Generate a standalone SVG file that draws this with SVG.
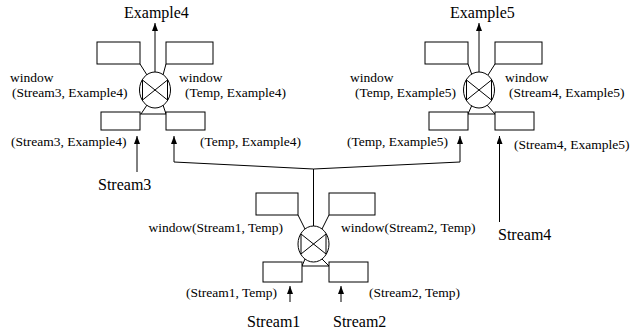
<svg xmlns="http://www.w3.org/2000/svg" width="630" height="334" viewBox="0 0 630 334" font-family="'Liberation Serif', 'DejaVu Serif', serif">
<style>
text{font-family:'Liberation Serif','DejaVu Serif',serif;fill:#000}
.s{font-size:13.5px}
.b{font-size:16px}
.box{fill:#fff;stroke:#000;stroke-width:1}
.ln{fill:none;stroke:#000;stroke-width:1}
.ar{fill:none;stroke:#000;stroke-width:1;marker-end:url(#ah)}
</style>
<defs>
<marker id="ah" viewBox="0 0 8 6" refX="8" refY="3" markerWidth="8" markerHeight="6" markerUnits="userSpaceOnUse" orient="auto"><path d="M0,0 L8,3 L0,6 z" fill="#000"/></marker>
<g id="opsym">
<ellipse cx="0" cy="0" rx="15.5" ry="18" fill="#fff" stroke="#000" stroke-width="1"/>
<path d="M-12.5,-10 L12.5,10 M12.5,-10 L-12.5,10 M-12.5,-10 V10 M12.5,-10 V10" fill="none" stroke="#000" stroke-width="1"/>
</g>
</defs>

<g id="connectors">
<path class="ln" d="M140,64 L147,75 M166,64 L163,75 M147,105 L141,114 M163,105 L166,114 M140,114 H166"/>
<path class="ar" d="M155,72 V23"/>
<path class="ln" d="M468,64 L472,75 M495,64 L488,75 M472,105 L468,114 M487,105 L495,114 M468,114 H495"/>
<path class="ar" d="M479,72 V23"/>
<path class="ln" d="M298,215 L305,229 M329,215 L322,229 M305,259 L302,266 M322,259 L329,266 M302,266 H329"/>
<path class="ln" d="M313.5,226 V169"/>
<path class="ar" d="M313.5,169 L174,162 V136"/>
<path class="ar" d="M313.5,169 L460,162 V136"/>
<path class="ar" d="M137,172 V136"/>
<path class="ar" d="M499.5,222 V136"/>
<path class="ar" d="M290,302 V286"/>
<path class="ar" d="M341,302 V286"/>
</g>

<g id="op-example4">
<rect class="box" x="97" y="42" width="43" height="22"/>
<rect class="box" x="166" y="42" width="47" height="22"/>
<use href="#opsym" x="155" y="90"/>
<rect class="box" x="101" y="112" width="39" height="18"/>
<rect class="box" x="166" y="112" width="39" height="18"/>
<text class="b" x="124" y="18">Example4</text>
<text class="s" x="10" y="82">window</text>
<text class="s" x="12" y="97">(Stream3, Example4)</text>
<text class="s" x="179" y="82">window</text>
<text class="s" x="185" y="97">(Temp, Example4)</text>
<text class="s" x="11" y="146">(Stream3, Example4)</text>
<text class="s" x="200" y="146">(Temp, Example4)</text>
</g>

<g id="op-example5">
<rect class="box" x="425" y="42" width="43" height="22"/>
<rect class="box" x="495" y="42" width="47" height="22"/>
<use href="#opsym" x="479" y="90"/>
<rect class="box" x="429" y="112" width="39" height="18"/>
<rect class="box" x="495" y="112" width="39" height="18"/>
<text class="b" x="450" y="18">Example5</text>
<text class="s" x="350" y="82">window</text>
<text class="s" x="355" y="97">(Temp, Example5)</text>
<text class="s" x="505" y="82">window</text>
<text class="s" x="509" y="97">(Stream4, Example5)</text>
<text class="s" x="347" y="146">(Temp, Example5)</text>
<text class="s" x="514" y="149">(Stream4, Example5)</text>
</g>

<g id="op-temp">
<rect class="box" x="256" y="193" width="42" height="22"/>
<rect class="box" x="329" y="193" width="46" height="22"/>
<use href="#opsym" x="313.5" y="244"/>
<rect class="box" x="263" y="262" width="39" height="20"/>
<rect class="box" x="329" y="262" width="39" height="20"/>
<text class="s" x="283" y="232" text-anchor="end">window(Stream1, Temp)</text>
<text class="s" x="341" y="232">window(Stream2, Temp)</text>
<text class="s" x="186" y="297">(Stream1, Temp)</text>
<text class="s" x="369" y="297">(Stream2, Temp)</text>
</g>

<g id="stream1"><text class="b" x="247" y="327">Stream1</text></g>
<g id="stream2"><text class="b" x="333" y="327">Stream2</text></g>
<g id="stream3"><text class="b" x="98" y="190">Stream3</text></g>
<g id="stream4"><text class="b" x="498" y="240">Stream4</text></g>
</svg>
